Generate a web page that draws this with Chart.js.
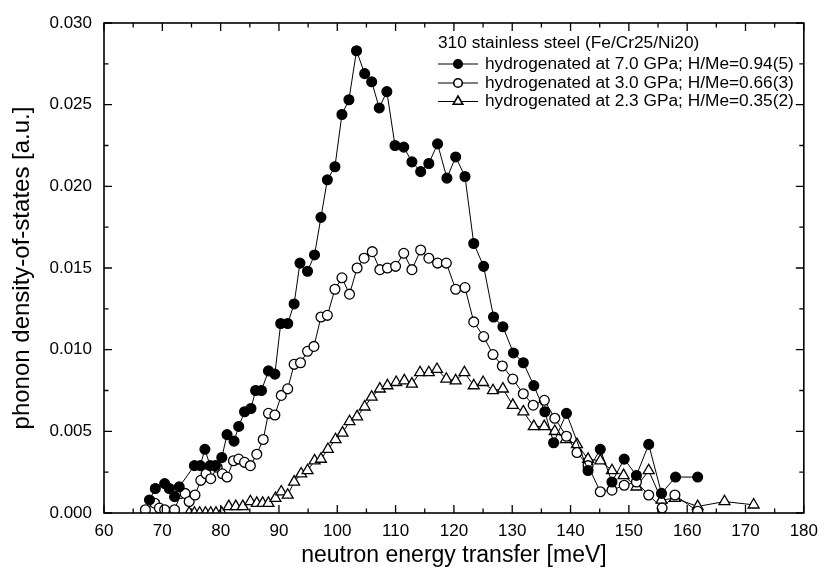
<!DOCTYPE html>
<html><head><meta charset="utf-8">
<script src="https://cdn.jsdelivr.net/npm/chart.js@4"></script>
<style>html,body{margin:0;padding:0;background:#fff}#wrap{width:826px;height:574px;position:relative}</style>
</head><body><div id="wrap"><canvas id="c" width="826" height="574"></canvas></div>
<script>
// ---- data ----
const energy70 = [67.8,68.8,70.4,71.2,72.1,72.9,75.5,76.5,77.3,78.2,79.1,80.2,81.1,82.3,83.1,84.1,85.2,86.0,87.0,88.2,89.3,90.3,91.5,92.6,93.6,94.9,96.1,97.2,98.3,99.6,100.8,102.0,103.3,104.7,105.9,107.2,108.5,109.9,111.4,112.8,114.3,115.7,117.2,118.8,120.3,121.9,123.4,125.1,126.8,128.4,130.2,131.9,133.7,135.6,137.1,139.3,143.0,145.1,147.1,149.2,151.3,153.4,155.6,158.0,161.8];
const dos70 = [0.0008,0.0015,0.0018,0.0015,0.0010,0.0016,0.0029,0.0029,0.0039,0.0029,0.0029,0.0034,0.0048,0.0044,0.0053,0.0062,0.0064,0.0075,0.0075,0.0087,0.0085,0.0116,0.0116,0.0128,0.0153,0.0148,0.0158,0.0181,0.0204,0.0212,0.0244,0.0253,0.0283,0.0269,0.0264,0.0248,0.0258,0.0225,0.0224,0.0215,0.0209,0.0214,0.0226,0.0205,0.0218,0.0206,0.0165,0.0151,0.0120,0.0114,0.0098,0.0092,0.0078,0.0062,0.0043,0.0061,0.0026,0.0039,0.0019,0.0033,0.0023,0.0042,0.0012,0.0022,0.0022];

const energy30 = [67.1,68.7,69.5,70.4,72.1,73.2,73.9,74.6,75.6,76.6,77.5,78.3,79.4,80.3,81.1,82.2,83.1,84.1,85.1,86.2,87.3,88.2,89.3,90.4,91.5,92.6,93.7,94.9,96.0,97.2,98.3,99.6,100.8,102.1,103.4,104.6,106.0,107.3,108.6,110.0,111.4,112.8,114.3,115.7,117.2,118.7,120.3,121.9,123.4,125.1,126.7,128.3,130.1,131.9,133.6,135.5,137.3,139.3,141.1,143.0,145.1,147.1,149.2,151.3,153.4,155.7,157.9,161.8];
const dos30 = [0.0002,0.0006,0.0003,0.0002,0.0002,0.0012,0.0012,0.0007,0.0011,0.0020,0.0024,0.0021,0.0028,0.0024,0.0022,0.0032,0.0033,0.0031,0.0029,0.0036,0.0045,0.0061,0.0060,0.0072,0.0076,0.0091,0.0092,0.0099,0.0102,0.0120,0.0121,0.0137,0.0144,0.0134,0.0150,0.0156,0.0160,0.0149,0.0150,0.0151,0.0159,0.0149,0.0161,0.0156,0.0153,0.0153,0.0137,0.0138,0.0117,0.0108,0.0097,0.0090,0.0082,0.0073,0.0066,0.0069,0.0058,0.0047,0.0037,0.0029,0.0013,0.0014,0.0017,0.0019,0.0011,0.0003,0.0011,0.0001];

const energy23 = [74.6,75.5,76.4,77.4,78.3,79.2,80.2,81.4,82.6,83.8,85.1,86.2,87.2,88.2,89.4,90.4,91.5,92.6,93.8,94.9,96.1,97.2,98.4,99.7,100.9,102.1,103.4,104.7,105.9,107.3,108.6,110.1,111.5,112.8,114.2,115.7,117.1,118.7,120.3,121.8,123.4,125.0,126.7,128.4,130.1,131.9,133.7,135.5,137.3,139.2,141.1,143.0,145.1,147.1,149.1,151.3,153.4,155.6,157.9,161.8,166.4,171.4];
const dos23 = [0,0,0,0,0,0,0,0.0004,0.0004,0.0004,0.0007,0.0006,0.0006,0.0006,0.0009,0.0013,0.0011,0.0019,0.0024,0.0026,0.0032,0.0033,0.0039,0.0045,0.0049,0.0056,0.0059,0.0065,0.0071,0.0076,0.0078,0.0080,0.0081,0.0079,0.0086,0.0086,0.0088,0.0082,0.0081,0.0086,0.0078,0.0080,0.0075,0.0076,0.0066,0.0062,0.0053,0.0053,0.0050,0.0045,0.0042,0.0033,0.0032,0.0026,0.0023,0.0016,0.0026,0.0008,0.0009,0.0004,0.0007,0.0005];

const legendTitle = "310 stainless steel (Fe/Cr25/Ni20)";
const seriesLabels = [
  "hydrogenated at 7.0 GPa; H/Me=0.94(5)",
  "hydrogenated at 3.0 GPa; H/Me=0.66(3)",
  "hydrogenated at 2.3 GPa; H/Me=0.35(2)"
];
const xTitle = "neutron energy transfer [meV]";
const yTitle = "phonon density-of-states [a.u.]";

// ---- build ----
const FONT = "'Liberation Sans', Arial, Helvetica, sans-serif";
const pts = (xs, ys) => xs.map((x, i) => ({x: x, y: ys[i]}));

const styles = [
  {pointStyle: 'circle', radius: 4.9, bg: '#000'},
  {pointStyle: 'circle', radius: 4.9, bg: '#fff'},
  {pointStyle: 'triangle', radius: 6.3, bg: '#fff'}
];
const seriesData = [pts(energy70, dos70), pts(energy30, dos30), pts(energy23, dos23)];

const datasets = seriesData.map((d, i) => ({
  label: seriesLabels[i],
  data: d,
  showLine: true,
  borderColor: '#000',
  borderWidth: 1,
  pointStyle: styles[i].pointStyle,
  pointRadius: styles[i].radius,
  pointHoverRadius: styles[i].radius,
  pointBackgroundColor: styles[i].bg,
  pointBorderColor: '#000',
  pointBorderWidth: 1.3,
  tension: 0
}));

const framePlugin = {
  id: 'frame',
  afterDraw(chart) {
    const {ctx, chartArea: a, scales: {x, y}} = chart;
    ctx.save();
    ctx.strokeStyle = '#000';
    ctx.lineWidth = 1.6;
    ctx.strokeRect(a.left, a.top, a.right - a.left, a.bottom - a.top);
    ctx.lineWidth = 1.3;
    ctx.beginPath();
    const xt = x.ticks.map(t => t.value);
    const xs = [];
    xt.forEach((v, i) => { xs.push([v, 8]); if (i < xt.length - 1) xs.push([(v + xt[i + 1]) / 2, 4.5]); });
    xs.forEach(([v, len]) => {
      const px = x.getPixelForValue(v);
      ctx.moveTo(px, a.bottom); ctx.lineTo(px, a.bottom - len);
      ctx.moveTo(px, a.top); ctx.lineTo(px, a.top + len);
    });
    const yt = y.ticks.map(t => t.value);
    const ys = [];
    yt.forEach((v, i) => { ys.push([v, 8]); if (i < yt.length - 1) ys.push([(v + yt[i + 1]) / 2, 4.5]); });
    ys.forEach(([v, len]) => {
      const py = y.getPixelForValue(v);
      ctx.moveTo(a.left, py); ctx.lineTo(a.left + len, py);
      ctx.moveTo(a.right, py); ctx.lineTo(a.right - len, py);
    });
    ctx.stroke();

    // legend
    const lx = 438, tx = 485, rows = [64, 83, 101.5];
    ctx.fillStyle = '#000';
    ctx.font = "17.3px " + FONT;
    ctx.textBaseline = 'middle';
    ctx.textAlign = 'left';
    ctx.fillText(legendTitle, lx, 43);
    rows.forEach((ry, i) => {
      ctx.beginPath();
      ctx.lineWidth = 1.2;
      ctx.strokeStyle = '#000';
      ctx.moveTo(lx, ry); ctx.lineTo(lx + 40, ry);
      ctx.stroke();
      ctx.fillStyle = styles[i].bg;
      ctx.strokeStyle = '#000';
      ctx.lineWidth = 1.6;
      Chart.helpers.drawPoint(ctx, {pointStyle: styles[i].pointStyle, radius: styles[i].pointStyle === 'triangle' ? 5.5 : 4.3, borderWidth: 1.6, rotation: 0}, lx + 20, ry);
      ctx.fillStyle = '#000';
      ctx.fillText(seriesLabels[i], tx, ry);
    });
    ctx.restore();
  }
};

new Chart(document.getElementById('c'), {
  type: 'scatter',
  data: {datasets: datasets},
  options: {
    responsive: false,
    animation: false,
    devicePixelRatio: 1,
    layout: {padding: {left: 0, right: 17, top: 23, bottom: 0}},
    plugins: {legend: {display: false}, tooltip: {enabled: false}},
    scales: {
      x: {
        type: 'linear', min: 60, max: 180,
        ticks: {stepSize: 10, color: '#000', font: {family: FONT, size: 17}, padding: 8, maxRotation: 0},
        grid: {display: false, drawTicks: false},
        border: {display: false},
        title: {display: true, text: xTitle, color: '#000', font: {family: FONT, size: 23, lineHeight: 1}, padding: {top: 0, bottom: 7}},
        afterFit(s) { s.height = 61; }
      },
      y: {
        type: 'linear', min: 0, max: 0.03,
        ticks: {stepSize: 0.005, color: '#000', font: {family: FONT, size: 17}, padding: 12, callback: v => v.toFixed(3)},
        grid: {display: false, drawTicks: false},
        border: {display: false},
        title: {display: true, text: yTitle, color: '#000', font: {family: FONT, size: 24, lineHeight: 1}, padding: {top: 10, bottom: 0}},
        afterFit(s) { s.width = 104; }
      }
    }
  },
  plugins: [framePlugin]
});
</script>
</body></html>
